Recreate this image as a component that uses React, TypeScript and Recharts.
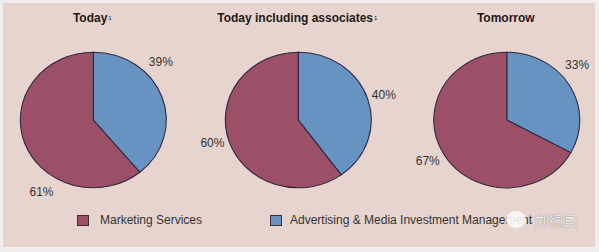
import { PieChart, Pie, Cell } from "recharts";

const pieTitles = ["Today", "Today including associates", "Tomorrow"];
const titleNotes = ["1", "1", ""];
const segmentNames = ["Advertising & Media Investment Management", "Marketing Services"];
const advertisingShare = [39, 40, 33];
const marketingShare = [61, 60, 67];
const legendOrder = ["Marketing Services", "Advertising & Media Investment Management"];

const MAROON = "#9b5068";
const BLUE = "#6693c1";
const STROKE = "#2e2840";
const segmentColors: Record<string, string> = {
  "Advertising & Media Investment Management": BLUE,
  "Marketing Services": MAROON,
};

// layout: the pies are slightly wider than tall, so the svg is stretched horizontally
const RY = 67.8;
const SX = 73 / RY;
const CY = 120;
const pieCenters = [93.3, 298.3, 506.8];
const labelAngles = [
  [49.4, 215.6],
  [74, 254.7],
  [52.2, 242.7],
];
const LABEL_DIST = 89;
const FONT = "'Liberation Sans', Arial, sans-serif";

const renderLabel = (pieIndex: number) => (props: any) => {
  const { cx, cy, index, value } = props;
  const a = (labelAngles[pieIndex][index] * Math.PI) / 180;
  const x = cx + (LABEL_DIST * Math.sin(a)) / SX;
  const y = cy - LABEL_DIST * Math.cos(a);
  return (
    <text
      transform={`translate(${x},${y}) scale(${1 / SX},1)`}
      textAnchor="middle"
      dominantBaseline="central"
      fontSize={12}
      fontFamily={FONT}
      fill="#333"
    >
      {`${value}%`}
    </text>
  );
};

const App = () => {
  const svgWidth = 599 / SX;
  return (
    <div
      style={{
        position: "absolute",
        left: 0,
        top: 0,
        width: 599,
        height: 252,
        background: "#f1eded",
        overflow: "hidden",
        fontFamily: FONT,
      }}
    >
      <div
        style={{
          position: "absolute",
          left: 3,
          top: 3,
          width: 592,
          height: 244,
          background: "#e7d4cf",
        }}
      />
      <div
        style={{
          position: "absolute",
          left: 0,
          top: 0,
          width: svgWidth,
          height: 252,
          transform: `scaleX(${SX})`,
          transformOrigin: "0 0",
        }}
      >
        <PieChart width={svgWidth} height={252} margin={{ top: 0, right: 0, bottom: 0, left: 0 }}>
          {pieTitles.map((t, i) => {
            const data = [
              { name: segmentNames[0], value: advertisingShare[i] },
              { name: segmentNames[1], value: marketingShare[i] },
            ];
            return (
              <Pie
                key={t}
                data={data}
                dataKey="value"
                nameKey="name"
                cx={pieCenters[i] / SX}
                cy={CY}
                outerRadius={RY}
                startAngle={90}
                endAngle={-270}
                stroke={STROKE}
                strokeWidth={1}
                label={renderLabel(i)}
                labelLine={false}
                isAnimationActive={false}
              >
                {data.map((d) => (
                  <Cell key={d.name} fill={segmentColors[d.name]} />
                ))}
              </Pie>
            );
          })}
        </PieChart>
      </div>

      {pieTitles.map((t, i) => (
        <div
          key={t}
          style={{
            position: "absolute",
            left: pieCenters[i] - 100 - 1,
            top: 11,
            width: 200,
            textAlign: "center",
            fontSize: 12,
            lineHeight: "14px",
            fontWeight: "bold",
            color: "#1e1a1a",
          }}
        >
          {t}
          {titleNotes[i] && (
            <span style={{ fontSize: 6, verticalAlign: "top", marginLeft: 1, fontWeight: "normal" }}>
              {titleNotes[i]}
            </span>
          )}
        </div>
      ))}

      {legendOrder.map((name, i) => (
        <div
          key={name}
          style={{
            position: "absolute",
            left: i === 0 ? 77 : 270,
            top: 212,
            height: 16,
            display: "flex",
            alignItems: "center",
            fontSize: 12,
            color: "#333",
            whiteSpace: "nowrap",
          }}
        >
          <span
            style={{
              display: "inline-block",
              width: 10,
              height: 9,
              background: segmentColors[name],
              border: "1px solid #3a2c38",
              marginRight: i === 0 ? 11 : 8,
            }}
          />
          {name}
        </div>
      ))}

      <div
        style={{
          position: "absolute",
          left: 506,
          top: 211,
          width: 20,
          height: 17,
          borderRadius: "50%",
          background: "rgba(250,248,248,0.9)",
        }}
      />
      <div
        style={{
          position: "absolute",
          left: 535,
          top: 211,
          fontSize: 14,
          lineHeight: "18px",
          fontFamily: "'Noto Sans CJK SC', sans-serif",
          color: "#f6f2f2",
          textShadow: "0 0 1px #555",
          whiteSpace: "nowrap",
        }}
      >
        刘德寰
      </div>
    </div>
  );
};

export default App;
